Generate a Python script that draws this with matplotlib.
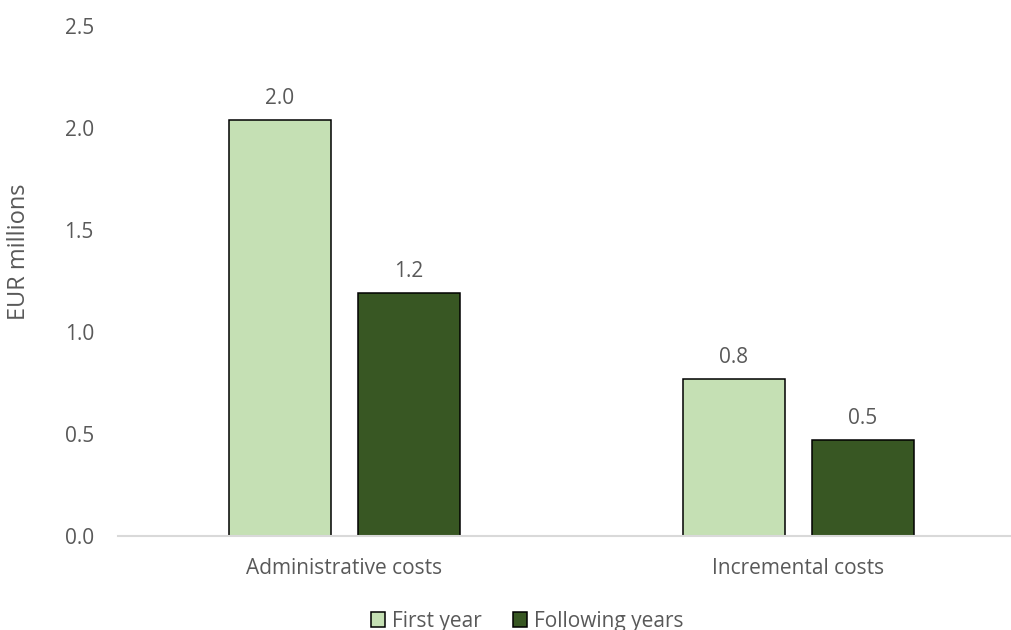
import matplotlib
import matplotlib.pyplot as plt
import numpy as np
from matplotlib.patches import Patch

matplotlib.use("Agg")

categories = ["Administrative costs", "Incremental costs"]
first_year = [2.04, 0.77]
following_years = [1.19, 0.47]
series_names = ["First year", "Following years"]
y_ticks = [0.0, 0.5, 1.0, 1.5, 2.0, 2.5]

LIGHT = "#C5E0B4"
DARK = "#385723"
TEXT = "#595959"
FS = 15

plt.rcParams["font.family"] = ["Open Sans", "DejaVu Sans"]

W, H = 1012, 630
fig = plt.figure(figsize=(W / 100, H / 100), dpi=100)
# plot area in pixels: x 117.5..1025.5, y 26..536 (from top)
ax = fig.add_axes([117.5 / W, (H - 536) / H, 908 / W, 510 / H])

x = np.arange(len(categories))
width = 0.2247
offset = 0.142
bars1 = ax.bar(x - offset, first_year, width, color=LIGHT, edgecolor="black", linewidth=1.1, zorder=3)
bars2 = ax.bar(x + offset, following_years, width, color=DARK, edgecolor="black", linewidth=1.1, zorder=3)

for bars, vals in [(bars1, first_year), (bars2, following_years)]:
    for b, v in zip(bars, vals):
        ax.annotate(f"{v:.1f}", (b.get_x() + b.get_width() / 2, v), xytext=(0, 8),
                    textcoords="offset points", ha="center", va="bottom",
                    fontsize=FS, color=TEXT)

ax.set_xlim(-0.5, 1.5)
ax.set_ylim(0, 2.5)
ax.set_yticks(y_ticks)
ax.set_yticklabels([f"{t:.1f}" for t in y_ticks])
ax.set_xticks(x)
ax.set_xticklabels(categories)
ax.tick_params(axis="both", length=0, labelsize=FS, labelcolor=TEXT)
ax.tick_params(axis="y", pad=17)
ax.tick_params(axis="x", pad=16)

for s in ["top", "right", "left"]:
    ax.spines[s].set_visible(False)
ax.spines["bottom"].set_color("#D9D9D9")
ax.spines["bottom"].set_linewidth(1.5)
ax.spines["bottom"].set_zorder(4)

fig.text(19 / W, 1 - 252 / H, "EUR millions", rotation=90, ha="center", va="center",
         fontsize=17, color=TEXT)

handles = [Patch(facecolor=LIGHT, edgecolor="black", linewidth=1.1),
           Patch(facecolor=DARK, edgecolor="black", linewidth=1.1)]
fig.legend(handles, series_names, loc="center", bbox_to_anchor=(527 / W, 1 - 621 / H),
           ncol=2, frameon=False, fontsize=FS, labelcolor=TEXT,
           handlelength=0.7, handleheight=0.7, handletextpad=0.3, columnspacing=1.5,
           borderpad=0)

fig.savefig("out.png", dpi=100)
